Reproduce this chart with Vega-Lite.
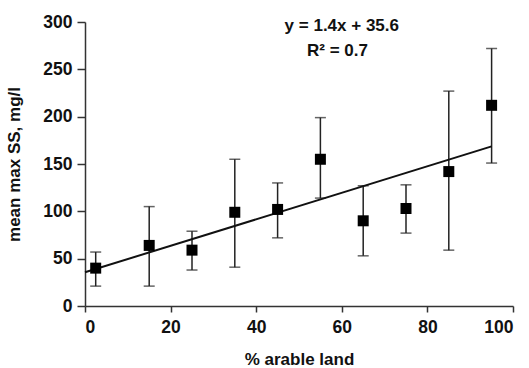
{
  "$schema": "https://vega.github.io/schema/vega-lite/v6.json",
  "width": 428,
  "height": 284,
  "autosize": "none",
  "padding": {"left": 85, "top": 22, "right": 16, "bottom": 62},
  "background": "white",
  "config": {
    "view": {"stroke": null},
    "font": "Liberation Sans",
    "axis": {
      "grid": false,
      "domainColor": "#333",
      "domainWidth": 1.5,
      "tickColor": "#333",
      "tickWidth": 1.5,
      "labelFont": "Liberation Sans",
      "labelFontWeight": "bold",
      "labelFontSize": 17.5,
      "labelColor": "#111",
      "titleFont": "Liberation Sans",
      "titleFontWeight": "bold",
      "titleFontSize": 17,
      "titleColor": "#111"
    }
  },
  "datasets": {
    "pts": [
      {"arable": 2.5, "ss": 40, "lo": 21, "hi": 57},
      {"arable": 15, "ss": 64, "lo": 21, "hi": 105},
      {"arable": 25, "ss": 59, "lo": 38, "hi": 79},
      {"arable": 35, "ss": 99, "lo": 41, "hi": 155},
      {"arable": 45, "ss": 102, "lo": 72, "hi": 130},
      {"arable": 55, "ss": 155, "lo": 114, "hi": 199},
      {"arable": 65, "ss": 90, "lo": 53, "hi": 127},
      {"arable": 75, "ss": 103, "lo": 77, "hi": 128},
      {"arable": 85, "ss": 142, "lo": 59, "hi": 227},
      {"arable": 95, "ss": 212, "lo": 151, "hi": 272}
    ],
    "fit": [
      {"arable": 0, "ss": 35.6},
      {"arable": 95, "ss": 168.6}
    ],
    "labels": [
      {"arable": 60, "ss": 296, "txt": "y = 1.4x + 35.6"},
      {"arable": 59, "ss": 269, "txt": "R² = 0.7"}
    ]
  },
  "layer": [
    {
      "data": {"name": "pts"},
      "mark": {"type": "errorbar", "ticks": {"size": 11, "thickness": 1.5, "color": "#222"}, "rule": {"strokeWidth": 1.5, "color": "#222"}},
      "encoding": {
        "x": {"field": "arable", "type": "quantitative", "scale": {"domain": [0, 100]},
          "axis": {"title": "% arable land", "values": [0, 20, 40, 60, 80, 100], "tickSize": 6, "labelPadding": 6, "titlePadding": 16}},
        "y": {"field": "lo", "type": "quantitative", "scale": {"domain": [0, 300]},
          "axis": {"title": "mean max SS, mg/l", "values": [0, 50, 100, 150, 200, 250, 300], "tickSize": 8, "labelPadding": 5, "titlePadding": 19}},
        "y2": {"field": "hi"}
      }
    },
    {
      "data": {"name": "fit"},
      "mark": {"type": "line", "color": "#111", "strokeWidth": 2},
      "encoding": {
        "x": {"field": "arable", "type": "quantitative"},
        "y": {"field": "ss", "type": "quantitative"}
      }
    },
    {
      "data": {"name": "pts"},
      "mark": {"type": "square", "filled": true, "color": "#000", "size": 121, "opacity": 1},
      "encoding": {
        "x": {"field": "arable", "type": "quantitative"},
        "y": {"field": "ss", "type": "quantitative"}
      }
    },
    {
      "data": {"name": "labels"},
      "mark": {"type": "text", "font": "Liberation Sans", "fontWeight": "bold", "fontSize": 17, "color": "#111", "align": "center", "baseline": "middle"},
      "encoding": {
        "x": {"field": "arable", "type": "quantitative"},
        "y": {"field": "ss", "type": "quantitative"},
        "text": {"field": "txt"}
      }
    }
  ]
}
